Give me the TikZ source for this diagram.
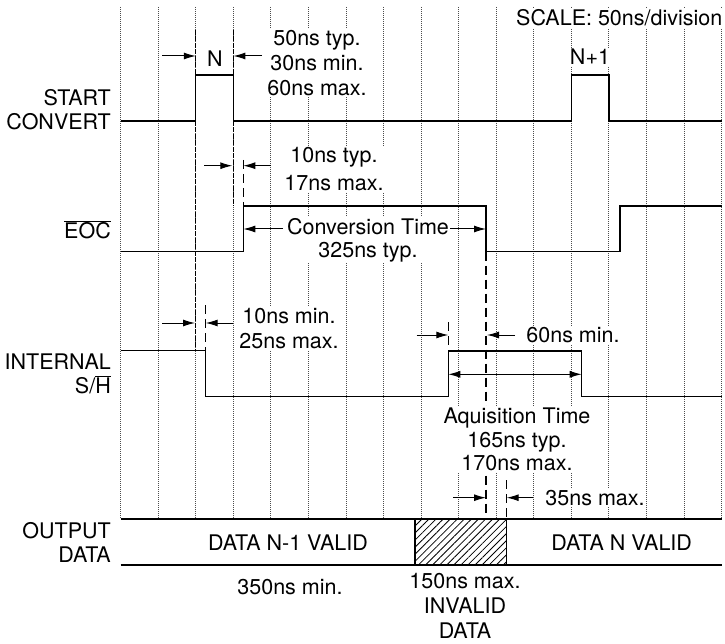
\documentclass[tikz,border=0pt]{standalone}
\usepackage{fontspec}
\setmainfont{TeX Gyre Heros}
\usetikzlibrary{arrows.meta,patterns.meta}

\begin{document}
\begin{tikzpicture}[x=1pt,y=-1pt,
  grid/.style={black!70, densely dotted, line width=1pt},
  guide/.style={line width=1pt, dash pattern=on 5pt off 1.5pt},
  markline/.style={line width=1.1pt, dash pattern=on 9pt off 5pt},
  sig/.style={line width=1.3pt},
  dim/.style={line width=1pt, -{Latex[length=12pt,width=7pt]}},
  note/.style={font=\fontsize{21.5}{25}\selectfont, align=center, fill=white, inner sep=1.5pt},
  lbl/.style={font=\fontsize{21.5}{24}\selectfont, align=right, anchor=east, inner sep=0pt}]
\useasboundingbox (0,0) rectangle (725,644);
% 50ns grid
\foreach \k in {0,...,16}
  \draw[grid] (120.7+37.56*\k,7) -- (120.7+37.56*\k,519);
% guide lines
\draw[guide] (195.8,30) -- (195.8,350.7);
\draw[guide] (233.4,30) -- (233.4,206);
\draw[markline] (243.3,160) -- (243.3,206);
\draw[markline] (486,251.7) -- (486,517);
\draw[markline] (205.7,305) -- (205.7,350.7);
\draw[markline] (448.3,322) -- (448.3,351);
\draw[markline] (506.7,480) -- (506.7,519);
% signal names
\node[lbl] (start) at (111,110) {START\\CONVERT};
\node[lbl] (eoc) at (111,230) {$\overline{\mbox{EOC}}$};
\node[lbl] (sh) at (111,374) {INTERNAL\\S/$\overline{\mbox{H}}$};
\node[lbl] (out) at (111,542) {OUTPUT\\DATA};
% timing notes
\node[note, anchor=east] (scale) at (724,18) {SCALE: 50ns/division};
\node[note, fill=none] (n) at (215,59) {N};
\node[note] (n1) at (590,57) {N+1};
\node[note] (pw) at (317,63) {50ns typ.\\30ns min.\\60ns max.};
\node[note] (td) at (334,169) {10ns typ.\\[3pt]17ns max.};
\node[note] (conv) at (368,240) {Conversion Time\\[-2pt]325ns typ.};
\node[note] (sd) at (289,329) {10ns min.\\25ns max.};
\node[note] (hold) at (573,335) {60ns min.};
\node[note] (acq) at (517,439) {Aquisition Time\\[-1pt]165ns typ.\\[-2pt]170ns max.};
\node[note] (oh) at (595,497.7) {35ns max.};
\node[note] (dold) at (288,543) {DATA N-1 VALID};
\node[note] (dnew) at (621.7,543) {DATA N VALID};
\node[note] (vmin) at (290,587) {350ns min.};
\node[note] (inv) at (465,606) {150ns max.\\INVALID\\DATA};
% waveforms
\draw[sig] (120.7,121) -- (195.8,121) -- (195.8,75) -- (233.4,75) -- (233.4,121)
  -- (571.4,121) -- (571.4,75) -- (609,75) -- (609,121) -- (721.7,121);
\draw[sig] (120.7,251.7) -- (243.3,251.7) -- (243.3,206) -- (486,206) -- (486,251.7)
  -- (620,251.7) -- (620,206) -- (721.7,206);
\draw[sig] (120.7,350.7) -- (205.7,350.7) -- (205.7,396.7) -- (448.3,396.7) -- (448.3,351)
  -- (581.7,351) -- (581.7,396.7) -- (721.7,396.7);
\draw[sig] (120.7,519) -- (721.7,519);
\draw[sig] (120.7,565) -- (721.7,565);
\draw[sig, pattern={Lines[angle=45,distance=5pt,line width=0.8pt]}] (415,519) rectangle (506.7,565);
% dimension arrows
\draw[dim] (162,56) -- (195.8,56);
\draw[dim] (262,56) -- (233.4,56);
\draw[dim] (204,165.7) -- (232.3,165.7);
\draw[dim] (271,165.7) -- (243.3,165.7);
\draw[dim] (283,229) -- (243.3,229);
\draw[dim] (450,229) -- (486,229);
\draw[dim] (162,323) -- (195,323);
\draw[dim] (233,323) -- (205.7,323);
\draw[dim] (416.7,335) -- (448.3,335);
\draw[dim] (515,335) -- (487,335);
\draw[dim, {Latex[length=12pt,width=7pt]}-{Latex[length=12pt,width=7pt]}] (448.3,374.3) -- (581.7,374.3);
\draw[dim] (453,497.7) -- (486,497.7);
\draw[dim] (533,497.7) -- (506.7,497.7);
\end{tikzpicture}
\end{document}
